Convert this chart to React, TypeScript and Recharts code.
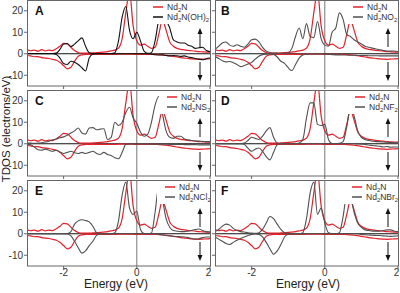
import React from 'react';
import { LineChart, Line, XAxis, YAxis, ReferenceLine } from 'recharts';

// energy grid (eV), shared by every panel
const energy = [
  -3.0, -2.9, -2.8, -2.7, -2.6, -2.5, -2.4, -2.3, -2.2, -2.1,
  -2.0, -1.9, -1.8, -1.7, -1.6, -1.5, -1.4, -1.3, -1.2, -1.1,
  -1.0, -0.9, -0.8, -0.7, -0.6, -0.5, -0.4, -0.3, -0.2, -0.1,
  0.0, 0.1, 0.2, 0.3, 0.4, 0.5, 0.6, 0.7, 0.8, 0.9,
  1.0, 1.1, 1.2, 1.3, 1.4, 1.5, 1.6, 1.7, 1.8, 1.9,
  2.0,
];

// Nd2N reference (red, same in all panels)
const nd2nUp = [
  1.8, 1.4, 1.7, 1.2, 1.9, 1.3, 1.7, 1.5, 2.3, 3.5,
  4.8, 4.6, 3.0, 1.5, 0.6, 0.3, 0.3, 0.3, 0.4, 0.5,
  0.6, 0.8, 1.0, 1.3, 1.7, 2.6, 7, 19, 29, 13,
  6, 4, 4.5, 3.5, 2.5, 3, 9, 15.5, 11, 5.5,
  3.5, 2.5, 2, 1.8, 1.5, 1.4, 1.2, 1.0, 0.9, 0.8,
  0.8,
];
const nd2nDown = [
  -0.8, -1.0, -1.4, -1.3, -1.8, -2.0, -2.2, -2.6, -3.0, -4.0,
  -5.5, -7.0, -6.3, -3.5, -1.2, -0.5, -0.3, -0.3, -0.3, -0.3,
  -0.3, -0.3, -0.3, -0.3, -0.3, -0.2, -0.2, -0.2, -0.2, -0.2,
  -0.3, -0.3, -0.3, -0.3, -0.3, -0.3, -0.4, -0.5, -0.7, -0.9,
  -1.2, -1.5, -1.8, -2.0, -2.2, -2.4, -2.5, -2.6, -2.5, -2.4,
  -2.3,
];

// Nd2N(OH)2
const oh2Up = [
  0.1, 0.1, 0.1, 0.1, 0.1, 0.1, 0.1, 0.1, 0.3, 2,
  4.5, 4.8, 3.3, 4.5, 6, 7.4, 3.5, 0.5, 0.1, 0.1,
  0.1, 0.1, 0.1, 0.1, 0.5, 6, 17, 22, 11, 7,
  10, 6, 1.2, 0.2, 0.5, 6, 16, 22, 16, 12,
  6.5, 5.5, 5, 5, 4, 3.5, 2.5, 2.8, 3, 1.5,
  1,
];
const oh2Down = [
  0, 0, 0, 0, 0, 0, 0, 0, -0.3, -2,
  -4.5, -5, -3.5, -4, -5, -6.5, -8, -2, -0.2, 0,
  0, 0, 0, 0, 0, 0, 0, 0, 0, 0,
  0, 0, 0, 0, -0.2, -0.5, -0.6, -0.5, -0.8, -1,
  -0.8, -1, -1.2, -1, -1.5, -1.8, -2.2, -2.5, -2.8, -2.3,
  -2,
];

// Nd2NO2
const no2Up = [
  2, 3.5, 5, 5.5, 4, 3.5, 4.2, 3.5, 3, 4.5,
  6.5, 6.8, 5.5, 3, 1.2, 0.6, 0.3, 0.3, 0.2, 0.3,
  0.5, 2.5, 8, 12, 7, 14, 8, 7.5, 15, 7,
  4, 3.5, 10, 12, 19, 16, 9, 8, 6.5, 5.5,
  4.5, 3.5, 3, 2.6, 2.2, 1.8, 1.5, 1.3, 1.2, 1.3,
  1,
];
const no2Down = [
  -1.3, -2.2, -3.2, -3.8, -3.6, -4.2, -5, -6, -5.5, -4.8,
  -4, -2.5, -1.2, -0.4, -0.2, -0.1, -0.3, -1.5, -3.5, -4.5,
  -6.5, -7.8, -5, -2, -0.6, -0.2, -0.1, -0.1, -0.1, -0.1,
  -0.1, -0.3, -0.4, -0.5, -0.5, -0.6, -0.6, -0.7, -0.7, -0.8,
  -0.8, -0.8, -0.9, -0.9, -0.9, -1.0, -1.0, -1.0, -1.0, -1.0,
  -1.0,
];

// Nd2NS2
const ns2Up = [
  0.3, 0.3, 0.2, 0.3, 0.5, 0.8, 1.2, 1.8, 2.2, 2.8,
  3.2, 4, 5, 6, 7.3, 5, 4.5, 7.3, 7.5, 6.5,
  6.8, 7, 2, 3, 10, 8.5, 10, 14.5, 17, 12,
  9.5, 5.5, 3.5, 4.5, 10, 18, 22, 14, 6, 3,
  2.5, 3.5, 3.5, 2.2, 1.8, 1.5, 1.3, 1.2, 1.1, 1,
  1,
];
const ns2Down = [
  -0.3, -0.5, -1.5, -2.8, -3, -2.5, -3, -3.5, -3, -3.8,
  -4.5, -4, -3.5, -4.2, -4.5, -4, -4.5, -4, -3.5, -4.5,
  -5, -4, -5, -5.5, -6.5, -7, -4, -0.3, -0.1, -0.1,
  -0.1, -0.1, -0.1, -0.1, -0.2, -0.2, -0.2, -0.2, -0.2, -0.3,
  -0.3, -0.3, -0.3, -0.4, -0.4, -0.4, -0.4, -0.5, -0.5, -0.5,
  -0.5,
];

// Nd2NF2
const nf2Up = [
  0, 0, 0, 0, 0, 0, 0, 0, 0.3, 1.5,
  3, 2.5, 2, 3.5, 6, 7.5, 3, 0.3, 0, 0,
  0, 0, 0, 0.3, 2, 12, 19, 19, 9, 8.5,
  9, 2, 0.1, 0, 0.2, 1, 8, 17, 13, 6,
  3, 2, 1.5, 1.2, 1, 1, 0.8, 0.7, 0.6, 0.5,
  0.5,
];
const nf2Down = [
  0, 0, 0, 0, 0, 0, 0, 0, -0.3, -2,
  -3.5, -2.5, -2, -3.5, -6, -7.5, -4, -0.5, 0, 0,
  0, 0, 0, 0, 0, 0, 0, 0, 0, 0,
  0, 0, 0, 0, 0, 0, 0, 0, 0, -0.1,
  -0.2, -0.3, -0.6, -0.8, -1, -1.2, -1.5, -1.3, -1.6, -1.5,
  -1.5,
];

// Nd2NCl2
const ncl2Up = [
  0, 0, 0, 0, 0, 0, 0, 0, 0, 0,
  0, 0.1, 1, 4.5, 6, 6.5, 6.2, 5.5, 3.5, 0.5,
  0, 0, 0, 0, 0.5, 6, 18, 24, 12, 9,
  10.5, 2, 0.1, 0, 0.3, 10, 22, 16, 7, 3,
  1.5, 1.2, 1, 1, 1.2, 1.5, 2, 2.2, 1.5, 1,
  0.8,
];
const ncl2Down = [
  0, 0, 0, 0, 0, 0, 0, 0, 0, 0,
  0, -0.1, -1, -3.5, -6.5, -9, -8, -5.5, -3.5, -0.8,
  0, 0, 0, 0, 0, 0, 0, 0, 0, 0,
  0, 0, 0, 0, 0, 0, -0.3, -0.5, -0.8, -1,
  -1.2, -1.3, -1.4, -1.5, -1.8, -2.2, -2.5, -2.3, -1.8, -1.5,
  -1.5,
];

// Nd2NBr2
const nbr2Up = [
  1, 2, 3.5, 4.5, 4, 2.5, 1.5, 1, 0.8, 0.5,
  0.3, 0.2, 0.5, 2, 5, 8, 7, 4.5, 2, 0.5,
  0.1, 0, 0, 0, 0.5, 7, 19, 24, 9, 12,
  5, 0.5, 0.1, 0, 0.5, 8, 18, 17, 10, 5,
  3, 1.8, 1.5, 1.2, 1.2, 1.2, 1.5, 1.8, 1.8, 1.2,
  1,
];
const nbr2Down = [
  -1.5, -2.5, -3.5, -4.5, -5, -4, -3, -2.2, -1.5, -0.8,
  -0.3, -0.1, -0.3, -1.5, -4, -7, -9.5, -8, -5, -1.5,
  -0.2, 0, 0, 0, 0, 0, 0, 0, 0, 0,
  0, 0, 0, 0, 0, 0, 0, 0, 0, 0,
  -0.3, -0.5, -0.6, -0.7, -0.8, -0.8, -1, -1.1, -1.2, -1.1,
  -1,
];

const xTicks = [-2, 0, 2];
const yTicks = [-10, 0, 10, 20];

const FONT = '"Liberation Sans", Arial, Helvetica, sans-serif';
const RED = '#e5202a';

// lx: legend line start, px from the plot's left edge
const panels = [
  { letter: 'A', label: ['Nd', '2', 'N(OH)', '2'], up: oh2Up, down: oh2Down, stroke: '#111', col: 0, row: 0, lx: 126 },
  { letter: 'B', label: ['Nd', '2', 'NO', '2'], up: no2Up, down: no2Down, stroke: '#505050', col: 1, row: 0, lx: 138 },
  { letter: 'C', label: ['Nd', '2', 'NS', '2'], up: ns2Up, down: ns2Down, stroke: '#505050', col: 0, row: 1, lx: 140 },
  { letter: 'D', label: ['Nd', '2', 'NF', '2'], up: nf2Up, down: nf2Down, stroke: '#505050', col: 1, row: 1, lx: 140 },
  { letter: 'E', label: ['Nd', '2', 'NCl', '2'], up: ncl2Up, down: ncl2Down, stroke: '#505050', col: 0, row: 2, lx: 138 },
  { letter: 'F', label: ['Nd', '2', 'NBr', '2'], up: nbr2Up, down: nbr2Down, stroke: '#505050', col: 1, row: 2, lx: 137 },
];

const PLOT_W = 183;
const PLOT_H = 86;
const AXIS_W = 27;

function Formula({ parts, x, y }) {
  return (
    <text x={x} y={y} fontFamily={FONT} fontSize={8.5} fill="#333">
      {parts.map((t, i) =>
        i % 2 === 1 ? (
          <tspan key={i} fontSize={6} dy={2}>{t}</tspan>
        ) : (
          <tspan key={i} dy={i === 0 ? 0 : -2}>{t}</tspan>
        )
      )}
    </text>
  );
}

function Panel({ p }) {
  const bottom = p.row === 2;
  const rows = energy.map((e, i) => ({
    e,
    refUp: nd2nUp[i],
    refDown: nd2nDown[i],
    up: p.up[i],
    down: p.down[i],
  }));
  const xH = bottom ? 26 : 4;
  const ax = AXIS_W + PLOT_W - 10; // arrow x
  const lx = AXIS_W + p.lx;
  return (
    <div style={{ position: 'absolute', left: p.col === 0 ? 0 : 188, top: p.row * 90, width: 211, height: PLOT_H + xH }}>
      <LineChart width={211} height={PLOT_H + xH} data={rows} margin={{ top: 0, right: 1, bottom: 0, left: 0 }}>
        <XAxis
          dataKey="e"
          type="number"
          domain={[-3, 2]}
          ticks={xTicks}
          allowDataOverflow
          height={xH}
          axisLine={false}
          tickLine={{ stroke: '#666' }}
          tickSize={3}
          tickMargin={0}
          tickFormatter={(v) => (bottom ? String(v) : '')}
          tick={{ fontSize: 10, fill: '#333', fontFamily: FONT }}
        />
        <YAxis
          type="number"
          domain={[-15, 25]}
          ticks={yTicks}
          allowDataOverflow
          width={AXIS_W}
          axisLine={false}
          tickLine={{ stroke: '#666' }}
          tickSize={3}
          tickMargin={1}
          tickFormatter={(v) => (p.col === 0 ? String(v) : '')}
          tick={{ fontSize: 10, fill: '#333', fontFamily: FONT }}
        />
        <ReferenceLine x={0} stroke="#777" strokeWidth={1} />
        <ReferenceLine y={0} stroke="#111" strokeWidth={1} />
        <Line dataKey="refUp" type="monotone" stroke={RED} strokeWidth={1.2} dot={false} isAnimationActive={false} />
        <Line dataKey="refDown" type="monotone" stroke={RED} strokeWidth={1.2} dot={false} isAnimationActive={false} />
        <Line dataKey="up" type="monotone" stroke={p.stroke} strokeWidth={1.1} dot={false} isAnimationActive={false} />
        <Line dataKey="down" type="monotone" stroke={p.stroke} strokeWidth={1.1} dot={false} isAnimationActive={false} />
      </LineChart>
      <svg
        width={211}
        height={PLOT_H + 1}
        style={{ position: 'absolute', left: 0, top: 0, pointerEvents: 'none' }}
      >
        {/* legend box, hides the tall peaks behind it */}
        <rect x={lx - 8} y={1} width={AXIS_W + PLOT_W - 1 - (lx - 8)} height={23} fill="#fff" />
        <line x1={lx} x2={lx + 10} y1={7} y2={7} stroke={RED} strokeWidth={1.5} />
        <line x1={lx} x2={lx + 10} y1={17} y2={17} stroke={p.stroke} strokeWidth={1.5} />
        <Formula parts={['Nd', '2', 'N']} x={lx + 14} y={10} />
        <Formula parts={p.label} x={lx + 14} y={20} />
        {/* frame */}
        <rect x={AXIS_W + 0.5} y={0.5} width={PLOT_W} height={PLOT_H - 0.5} fill="none" stroke="#666" />
        <text
          x={AXIS_W + (p.col === 0 ? 8 : 6)}
          y={15}
          fontFamily={FONT}
          fontSize={12}
          fontWeight="bold"
          fill="#111"
        >
          {p.letter}
        </text>
        <g stroke="#111" fill="#111">
          <line x1={ax} y1={47} x2={ax} y2={32} strokeWidth={1} />
          <polygon points={`${ax},28 ${ax - 2.5},34 ${ax + 2.5},34`} stroke="none" />
          <line x1={ax} y1={62} x2={ax} y2={77} strokeWidth={1} />
          <polygon points={`${ax},81 ${ax - 2.5},75 ${ax + 2.5},75`} stroke="none" />
        </g>
      </svg>
    </div>
  );
}

export default function App() {
  return (
    <div style={{ position: 'relative', width: 400, height: 293, background: '#fff', overflow: 'hidden' }}>
      <style>{'body{margin:0}'}</style>
      {panels.map((p) => (
        <Panel key={p.letter} p={p} />
      ))}
      <svg width={400} height={293} style={{ position: 'absolute', left: 0, top: 0, pointerEvents: 'none' }}>
        <text
          transform="translate(10,129) rotate(-90)"
          textAnchor="middle"
          fontFamily={FONT}
          fontSize={11.5}
          fill="#222"
        >
          TDOS (electrons/eV)
        </text>
        <text x={116} y={288} textAnchor="middle" fontFamily={FONT} fontSize={12} fill="#222">
          Energy (eV)
        </text>
        <text x={308} y={288} textAnchor="middle" fontFamily={FONT} fontSize={12} fill="#222">
          Energy (eV)
        </text>
      </svg>
    </div>
  );
}
